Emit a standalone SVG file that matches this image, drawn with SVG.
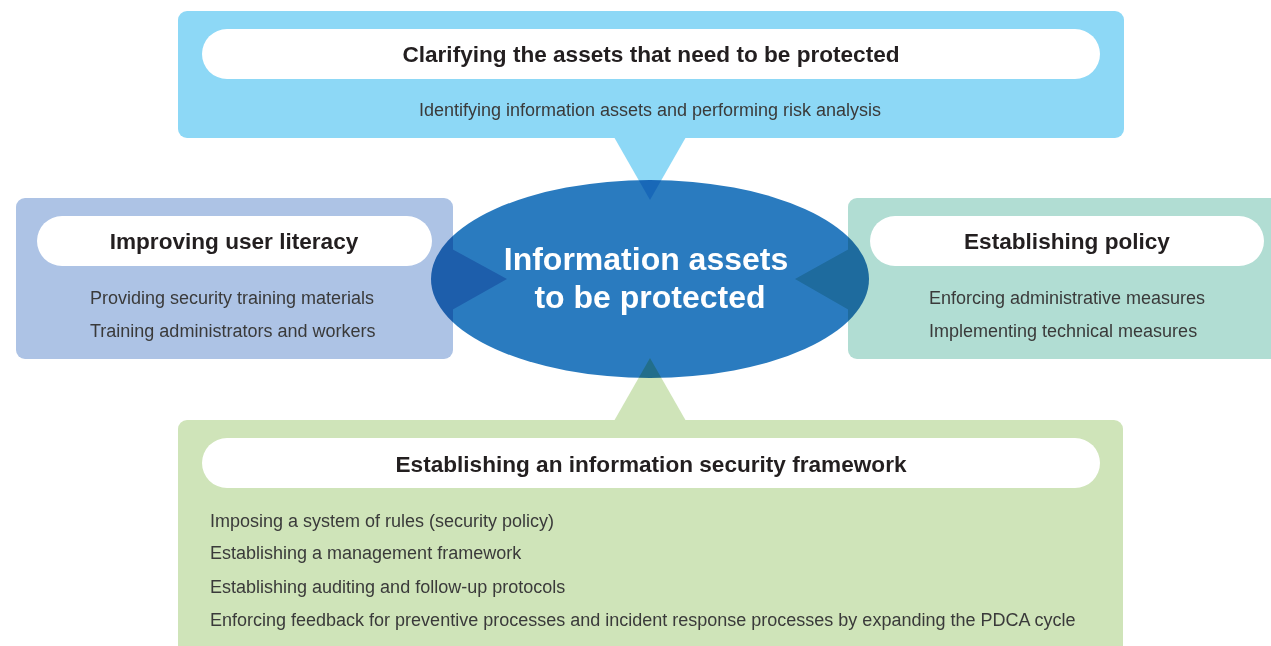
<svg xmlns="http://www.w3.org/2000/svg" width="1271" height="646" viewBox="0 0 1271 646">
<style>
.pill{fill:#ffffff}
.ttl{font-family:"Liberation Sans",Arial,sans-serif;font-weight:bold;font-size:22.6px;fill:#231f20;text-anchor:middle}
.itm{font-family:"Liberation Sans",Arial,sans-serif;font-size:18px;fill:#3a3a3a}
.ctr{font-family:"Liberation Sans",Arial,sans-serif;font-weight:bold;font-size:32px;fill:#ffffff;text-anchor:middle}
</style>
<rect width="1271" height="646" fill="#ffffff"/>
<g id="node-top">
<rect x="178" y="11" width="946" height="127" rx="9" fill="#8dd8f6"/>
<polygon points="614,137 686,137 650,200" fill="#8dd8f6"/>
<rect class="pill" x="202" y="29" width="898" height="50" rx="25"/>
<text class="ttl" x="651" y="62">Clarifying the assets that need to be protected</text>
<text class="itm" x="650" y="116" text-anchor="middle">Identifying information assets and performing risk analysis</text>
</g>
<g id="node-left">
<rect x="16" y="198" width="437" height="161" rx="9" fill="#adc3e5"/>
<polygon points="452,249 452,310 507,279" fill="#adc3e5"/>
<rect class="pill" x="37" y="216" width="395" height="50" rx="25"/>
<text class="ttl" x="234" y="249">Improving user literacy</text>
<text class="itm" x="90" y="304">Providing security training materials</text>
<text class="itm" x="90" y="337">Training administrators and workers</text>
</g>
<g id="node-right">
<rect x="848" y="198" width="440" height="161" rx="9" fill="#b1ddd3"/>
<polygon points="849,249 849,310 795,279" fill="#b1ddd3"/>
<rect class="pill" x="870" y="216" width="394" height="50" rx="25"/>
<text class="ttl" x="1067" y="249">Establishing policy</text>
<text class="itm" x="929" y="304">Enforcing administrative measures</text>
<text class="itm" x="929" y="337">Implementing technical measures</text>
</g>
<g id="node-bottom">
<rect x="178" y="420" width="945" height="240" rx="9" fill="#cfe4b9"/>
<polygon points="614,421 686,421 650,358" fill="#cfe4b9"/>
<rect class="pill" x="202" y="438" width="898" height="50" rx="25"/>
<text class="ttl" x="651" y="472">Establishing an information security framework</text>
<text class="itm" x="210" y="527">Imposing a system of rules (security policy)</text>
<text class="itm" x="210" y="559">Establishing a management framework</text>
<text class="itm" x="210" y="593">Establishing auditing and follow-up protocols</text>
<text class="itm" x="210" y="626">Enforcing feedback for preventive processes and incident response processes by expanding the PDCA cycle</text>
</g>
<g id="node-center">
<ellipse cx="650" cy="279" rx="219" ry="99" fill="#2a7bbf" style="mix-blend-mode:multiply"/>
<text class="ctr" x="646" y="270">Information assets</text>
<text class="ctr" x="650" y="308">to be protected</text>
</g>
<g id="connectors"></g>
</svg>
